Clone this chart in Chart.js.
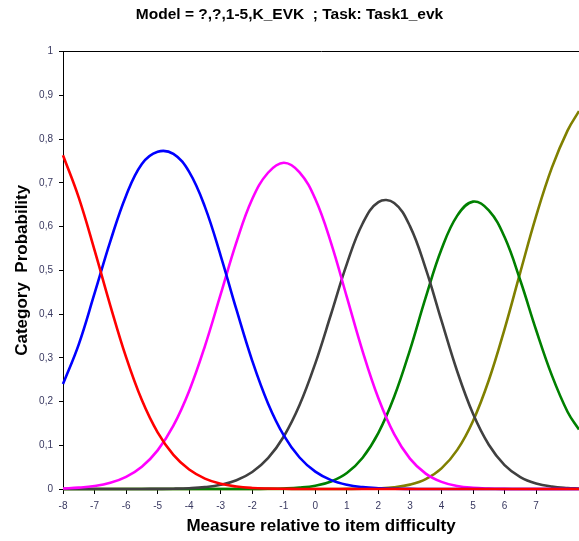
<!DOCTYPE html>
<html>
<head>
<meta charset="utf-8">
<script src="https://cdn.jsdelivr.net/npm/chart.js@4"></script>
<style>
  html, body { margin: 0; padding: 0; background: #fff; }
  #wrap { width: 579px; height: 541px; }
</style>
</head>
<body>
<div id="wrap"><canvas id="chart" width="579" height="541"></canvas></div>
<script>
const measure = [-8, -7.5, -7, -6.5, -6, -5.5, -5, -4.5, -4, -3.5, -3, -2.5, -2, -1.5, -1, -0.5,
  0, 0.5, 1, 1.5, 2, 2.5, 3, 3.5, 4, 4.5, 5, 5.5, 6, 6.5, 7, 7.5, 8, 8.36];

// Category probability curves, one array per category (1..6).
const cat1 = [0.7630, 0.6661, 0.5461, 0.4195, 0.3014, 0.2032, 0.1293, 0.0779, 0.0444, 0.0238, 0.0119, 0.0056, 0.0024, 0.0010, 0.0004, 0.0001,
  0, 0, 0, 0, 0, 0, 0, 0, 0, 0, 0, 0, 0, 0, 0, 0, 0, 0];
const cat2 = [0.2400, 0.3308, 0.4471, 0.5662, 0.6707, 0.7430, 0.7710, 0.7660, 0.7250, 0.6451, 0.5332, 0.4099, 0.2931, 0.1957, 0.1225, 0.0720,
  0.0397, 0.0203, 0.0096, 0.0042, 0.0017, 0.0006, 0.0002, 0.0001, 0, 0, 0, 0, 0, 0, 0, 0, 0, 0];
const cat3 = [0.0013, 0.0031, 0.0068, 0.0143, 0.0279, 0.0511, 0.0884, 0.1448, 0.2242, 0.3268, 0.4453, 0.5645, 0.6630, 0.7230, 0.7460, 0.7240,
  0.6630, 0.5622, 0.4387, 0.3147, 0.2073, 0.1253, 0.0695, 0.0352, 0.0163, 0.0069, 0.0027, 0.0010, 0.0003, 0.0001, 0, 0, 0, 0];
const cat4 = [0, 0, 0, 0, 0, 0.0001, 0.0003, 0.0007, 0.0018, 0.0043, 0.0096, 0.0200, 0.0389, 0.0706, 0.1201, 0.1919,
  0.2873, 0.4001, 0.5148, 0.6070, 0.6560, 0.6540, 0.6010, 0.5039, 0.3849, 0.2687, 0.1719, 0.1011, 0.0547, 0.0273, 0.0126, 0.0055, 0.0023, 0.0012];
const cat5 = [0, 0, 0, 0, 0, 0, 0, 0, 0, 0, 0, 0, 0.0001, 0.0004, 0.0012, 0.0031,
  0.0075, 0.0173, 0.0367, 0.0716, 0.1283, 0.2108, 0.3177, 0.4381, 0.5480, 0.6250, 0.6570, 0.6370, 0.5760, 0.4766, 0.3635, 0.2597, 0.1761, 0.1360];
const cat6 = [0, 0, 0, 0, 0, 0, 0, 0, 0, 0, 0, 0, 0, 0, 0, 0,
  0, 0, 0.0002, 0.0005, 0.0015, 0.0040, 0.0100, 0.0227, 0.0471, 0.0894, 0.1556, 0.2486, 0.3657, 0.4960, 0.6238, 0.7348, 0.8200, 0.8640];

const xTickValues = [-8, -7, -6, -5, -4, -3, -2, -1, 0, 1, 2, 3, 4, 5, 6, 7];

const series = [
  { data: cat1, color: "#ff0000" },
  { data: cat2, color: "#0000ff" },
  { data: cat3, color: "#ff00ff" },
  { data: cat4, color: "#404040" },
  { data: cat5, color: "#008000" },
  { data: cat6, color: "#808000" },
];

const TICK_COLOR = "#383860";
const FONT = '"Liberation Sans", Arial, sans-serif';

new Chart(document.getElementById("chart").getContext("2d"), {
  type: "line",
  data: {
    datasets: series.map((s, i) => ({
      label: "Category " + (i + 1),
      data: measure.map((x, j) => ({ x: x, y: s.data[j] })),
      borderColor: s.color,
      borderWidth: 2.6,
      pointRadius: 0,
      tension: 0.4,
      fill: false,
      clip: 4,
    })),
  },
  options: {
    responsive: false,
    animation: false,
    devicePixelRatio: 1,
    layout: { padding: 0 },
    plugins: {
      legend: { display: false },
      tooltip: { enabled: false },
      title: {
        display: true,
        text: "Model = ?,?,1-5,K_EVK  ; Task: Task1_evk",
        color: "#000",
        font: { family: FONT, size: 15.5, weight: "bold", lineHeight: 1.2 },
        padding: { top: 5, bottom: 28 },
      },
    },
    scales: {
      x: {
        type: "linear",
        min: -8,
        max: 8.36,
        afterBuildTicks: (scale) => { scale.ticks = xTickValues.map((v) => ({ value: v })); },
        afterFit: (scale) => { scale.height = 52; },
        border: { display: true, color: "#000", width: 1 },
        grid: { drawOnChartArea: false, drawTicks: true, tickLength: 5, tickColor: "#000" },
        ticks: {
          autoSkip: false, maxRotation: 0, padding: 6, color: TICK_COLOR,
          font: { family: FONT, size: 10 },
        },
        title: {
          display: true,
          text: "Measure relative to item difficulty",
          color: "#000",
          font: { family: FONT, size: 17, weight: "bold", lineHeight: 1.2 },
          padding: { top: 0, bottom: 4 },
        },
      },
      y: {
        min: 0,
        max: 1,
        afterFit: (scale) => { scale.width = 63; },
        border: { display: true, color: "#000", width: 1 },
        grid: {
          drawTicks: true,
          tickLength: 4,
          tickColor: "#000",
          color: (ctx) => (ctx.tick && ctx.tick.value === 1 ? "#000" : "rgba(0,0,0,0)"),
        },
        ticks: {
          stepSize: 0.1,
          padding: 6,
          color: TICK_COLOR,
          font: { family: FONT, size: 10 },
          callback: (v) => {
            const r = Math.round(v * 10) / 10;
            if (r === 0 || r === 1) return String(r);
            return r.toFixed(1).replace(".", ",");
          },
        },
        title: {
          display: true,
          text: "Category  Probability",
          color: "#000",
          font: { family: FONT, size: 17, weight: "bold", lineHeight: 1.2 },
          padding: { top: 12, bottom: 0 },
        },
      },
    },
  },
});
</script>
</body>
</html>
